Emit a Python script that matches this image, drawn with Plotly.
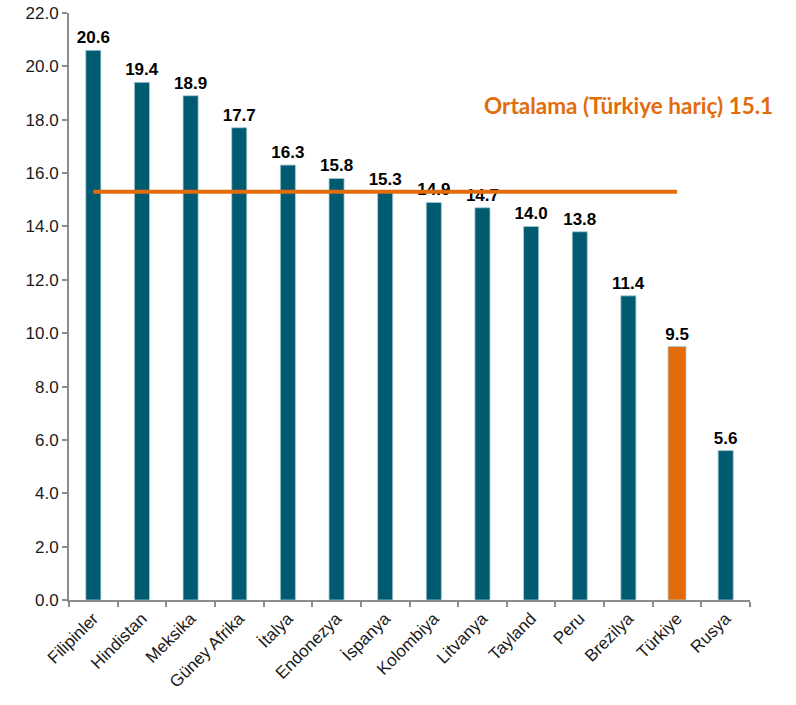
import plotly.graph_objects as go

categories = ["Filipinler", "Hindistan", "Meksika", "Güney Afrika", "İtalya", "Endonezya",
              "İspanya", "Kolombiya", "Litvanya", "Tayland", "Peru", "Brezilya", "Türkiye", "Rusya"]
values = [20.6, 19.4, 18.9, 17.7, 16.3, 15.8, 15.3, 14.9, 14.7, 14.0, 13.8, 11.4, 9.5, 5.6]
avg_line_value = 15.3
avg_label = "Ortalama (Türkiye hariç) 15.1"
y_ticks = [0, 2, 4, 6, 8, 10, 12, 14, 16, 18, 20, 22]

teal = "#005A70"
orange = "#E36C0A"
colors = [orange if c == "Türkiye" else teal for c in categories]
widths = [0.37 if c == "Türkiye" else 0.31 for c in categories]

fig = go.Figure()
fig.add_trace(go.Bar(
    x=categories, y=values, marker=dict(color=colors, line=dict(color="#A9CBD5", width=0.8)),
    width=widths,
    text=[f"{v:.1f}" for v in values], textposition="outside", constraintext="none",
    textfont=dict(family="Arial", size=17, color="black", weight="bold"),
    cliponaxis=False, showlegend=False,
))
fig.add_trace(go.Scatter(
    x=[categories[0], categories[12]], y=[avg_line_value, avg_line_value],
    mode="lines", line=dict(color=orange, width=4), showlegend=False, hoverinfo="skip",
))
fig.add_annotation(
    text=avg_label, xref="paper", yref="paper", x=1.037, y=0.842, xanchor="right", yanchor="middle",
    showarrow=False, font=dict(family="Lato", size=22.5, color=orange, weight="bold"),
)
fig.update_layout(
    width=796, height=705, margin=dict(l=69, r=46, t=13, b=105),
    plot_bgcolor="white", paper_bgcolor="white", bargap=0.68,
    font=dict(family="Arial", size=16, color="#1a1a1a"),
)
fig.update_xaxes(
    showline=True, linecolor="#8C8C8C", linewidth=2, tickangle=-45, automargin=False,
    ticks="outside", ticklen=5, tickcolor="#8C8C8C", tickwidth=2, tickson="boundaries",
    tickfont=dict(family="Arial", size=17, color="#1a1a1a"),
)
fig.update_yaxes(
    range=[0, 22], tickvals=y_ticks, ticktext=[f"{t:.1f}" for t in y_ticks], automargin=False,
    showline=True, linecolor="#8C8C8C", linewidth=2, showgrid=False, zeroline=False,
    ticks="outside", ticklen=5, tickcolor="#8C8C8C", tickwidth=2,
    tickfont=dict(family="Arial", size=17, color="#1a1a1a"),
)
fig.write_html("out.html", config={"displayModeBar": False},
               post_script="document.body.style.margin='0';")
